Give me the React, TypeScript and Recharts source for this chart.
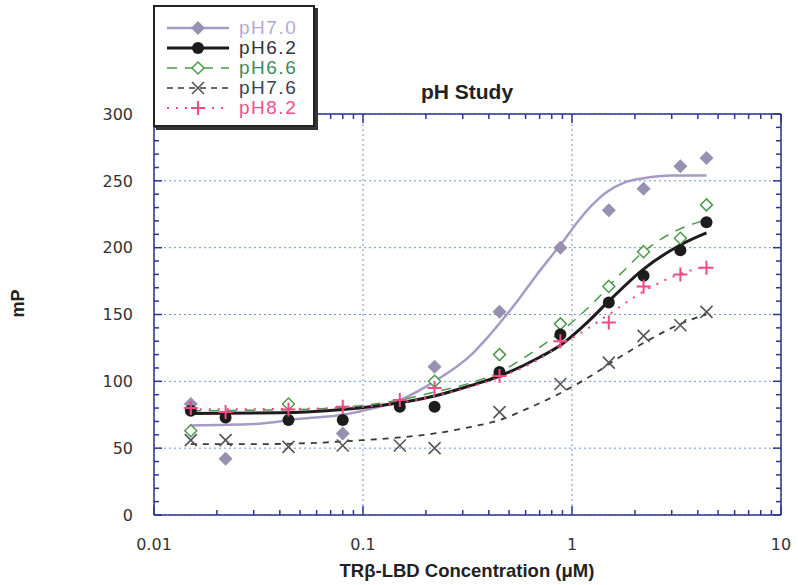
import React from "react";
import { ComposedChart, Line, Scatter, XAxis, YAxis, CartesianGrid, ReferenceLine } from "recharts";

// concentrations (uM) of the measured points
const conc = [0.015, 0.022, 0.044, 0.08, 0.15, 0.22, 0.45, 0.88, 1.5, 2.2, 3.3, 4.4];

// measured mP per pH (null = hidden behind other markers)
const ph70 = [83, 42, null, 61, null, 111, 152, 200, 228, 244, 261, 267];
const ph62 = [78, 73, 71, 71, 81, 81, 107, 135, 159, 179, 198, 219];
const ph66 = [63, null, 83, null, null, 100, 120, 143, 171, 197, 207, 232];
const ph76 = [56, 56, 51, 52, 52, 50, 77, 98, 114, 134, 142, 152];
const ph82 = [80, 77, 79, 81, 86, 95, 104, 130, 144, 171, 180, 185];

// fitted curves
const fit70X = [0.015, 0.03, 0.05, 0.08, 0.1, 0.15, 0.22, 0.33, 0.39, 0.47, 0.56, 0.68, 0.8, 0.91, 1.06, 1.25, 1.45, 1.8, 2.2, 3.0, 4.4];
const fit70Y = [67, 68, 72, 75, 78, 86, 100, 120, 132, 147, 162, 180, 194, 205, 219, 232, 241, 249, 252, 254, 254];
const fit62X = [0.015, 0.04, 0.08, 0.15, 0.22, 0.33, 0.45, 0.7, 0.88, 1.2, 1.5, 2.2, 3.3, 4.4];
const fit62Y = [76, 76.5, 79, 84, 89, 97, 104, 118, 127, 145, 160, 184, 202, 211];
const fit66X = [0.015, 0.05, 0.1, 0.15, 0.22, 0.33, 0.45, 0.65, 0.88, 1.25, 1.7, 2.2, 3.0, 4.4];
const fit66Y = [78, 79, 82, 86, 92, 99, 107, 122, 137, 158, 180, 197, 211, 221];
const fit76X = [0.015, 0.03, 0.06, 0.1, 0.15, 0.22, 0.33, 0.45, 0.6, 0.85, 1.2, 1.65, 2.4, 3.3, 4.4];
const fit76Y = [53, 53, 54, 56, 58, 61, 66, 71, 79, 90, 103, 117, 132, 143, 150];
const fit82X = [0.015, 0.05, 0.1, 0.15, 0.22, 0.33, 0.45, 0.65, 0.88, 1.15, 1.5, 1.9, 2.9, 3.9, 4.4];
const fit82Y = [79, 79.5, 81, 84, 89, 96, 103, 114, 127, 138, 150, 161, 177, 184, 186];

// axis ticks
const xMajor = [0.01, 0.1, 1, 10];
const xMinor = [0.02, 0.03, 0.04, 0.05, 0.06, 0.07, 0.08, 0.09, 0.2, 0.3, 0.4, 0.5, 0.6, 0.7, 0.8, 0.9, 2, 3, 4, 5, 6, 7, 8, 9];
const yMajor = [0, 50, 100, 150, 200, 250, 300];
const yMinor = [10, 20, 30, 40, 60, 70, 80, 90, 110, 120, 130, 140, 160, 170, 180, 190, 210, 220, 230, 240, 260, 270, 280, 290];

const pts = (ys: (number | null)[]) =>
    conc.map((x, i) => ({ x, y: ys[i] })).filter((d) => d.y !== null);
const curve = (xs: number[], ys: number[]) => xs.map((x, i) => ({ x, y: ys[i] }));

// layout
const W = 798;
const H = 585;
const M = { top: 114, right: 17, bottom: 35, left: 94 };
const XH = 35;
const YW = 60;
const PLOT_TOP = M.top;
const PLOT_BOTTOM = H - M.bottom - XH;
const PLOT_LEFT = M.left + YW;
const PLOT_RIGHT = W - M.right;

const C70 = "#a79bc6";
const C70dot = "#9890b0";
const C62 = "#1c1c1c";
const C66 = "#4f9a4f";
const C76 = "#3a3a3a";
const C82 = "#f04a80";
const AXIS = "#2b3590";
const FONT = "'DejaVu Sans', sans-serif";

const Diamond = ({ cx, cy }: any) => (
    <path d={`M${cx},${cy - 7}L${cx + 7},${cy}L${cx},${cy + 7}L${cx - 7},${cy}Z`} fill={C70dot} />
);
const OpenDiamond = ({ cx, cy }: any) => (
    <path d={`M${cx},${cy - 6}L${cx + 6},${cy}L${cx},${cy + 6}L${cx - 6},${cy}Z`} fill="white" stroke={C66} strokeWidth={1.5} />
);
const Dot = ({ cx, cy }: any) => <circle cx={cx} cy={cy} r={6} fill={C62} />;
const Cross = ({ cx, cy }: any) => (
    <path d={`M${cx - 6},${cy - 6}L${cx + 6},${cy + 6}M${cx + 6},${cy - 6}L${cx - 6},${cy + 6}`} stroke="#555" strokeWidth={1.6} />
);
const Plus = ({ cx, cy }: any) => (
    <path d={`M${cx - 7},${cy}L${cx + 7},${cy}M${cx},${cy - 7}L${cx},${cy + 7}`} stroke={C82} strokeWidth={2} />
);

// x ticks: inward marks on bottom and top edges, label on decades
const XTick = ({ x, y, payload }: any) => {
    const major = xMajor.includes(payload.value);
    const len = major ? 9 : 5;
    return (
        <g>
            <line x1={x} x2={x} y1={PLOT_BOTTOM} y2={PLOT_BOTTOM - len} stroke={AXIS} strokeWidth={1.5} />
            <line x1={x} x2={x} y1={PLOT_TOP} y2={PLOT_TOP + len} stroke={AXIS} strokeWidth={1.5} />
            {major && (
                <text x={x} y={y} dy="0.71em" textAnchor="middle" fill="#333" fontSize={16} fontFamily={FONT}>
                    {payload.value}
                </text>
            )}
        </g>
    );
};

// y ticks: inward marks on left and right edges, label every 50
const YTick = ({ x, y, payload }: any) => {
    const major = yMajor.includes(payload.value);
    const len = major ? 8 : 5;
    return (
        <g>
            <line x1={PLOT_LEFT} x2={PLOT_LEFT + len} y1={y} y2={y} stroke={AXIS} strokeWidth={1.5} />
            <line x1={PLOT_RIGHT} x2={PLOT_RIGHT - len} y1={y} y2={y} stroke={AXIS} strokeWidth={1.5} />
            {major && (
                <text x={x} y={y} dy="0.355em" textAnchor="end" fill="#333" fontSize={16} fontFamily={FONT}>
                    {payload.value}
                </text>
            )}
        </g>
    );
};

const legendRows = [
    { label: "pH7.0", color: "#b5a8d6", stroke: C70, dash: undefined, width: 2.5, marker: "diamond" },
    { label: "pH6.2", color: "#333", stroke: C62, dash: undefined, width: 3, marker: "dot" },
    { label: "pH6.6", color: "#3f8a5c", stroke: C66, dash: "10 8", width: 1.5, marker: "open" },
    { label: "pH7.6", color: "#3b3f55", stroke: C76, dash: "6 5", width: 1.5, marker: "cross" },
    { label: "pH8.2", color: "#f0508a", stroke: C82, dash: "2 7", width: 2, marker: "plus" },
];

function LegendBox() {
    return (
        <div
            style={{
                position: "absolute",
                left: 153,
                top: 5,
                width: 158,
                height: 107,
                border: "2px solid #222",
                boxShadow: "3px 3px 0 #333",
                background: "white",
                paddingTop: 11,
                boxSizing: "content-box",
            }}
        >
            {legendRows.map((r) => (
                <div key={r.label} style={{ display: "flex", alignItems: "center", height: 20, paddingLeft: 12 }}>
                    <svg width={64} height={16}>
                        <line x1={0} y1={8} x2={62} y2={8} stroke={r.stroke} strokeWidth={r.width} strokeDasharray={r.dash} />
                        {r.marker === "diamond" && <Diamond cx={31} cy={8} />}
                        {r.marker === "dot" && <Dot cx={31} cy={8} />}
                        {r.marker === "open" && <OpenDiamond cx={31} cy={8} />}
                        {r.marker === "cross" && <Cross cx={31} cy={8} />}
                        {r.marker === "plus" && <Plus cx={31} cy={8} />}
                    </svg>
                    <span
                        style={{
                            marginLeft: 8,
                            color: r.color,
                            fontFamily: "'Liberation Sans', sans-serif",
                            fontSize: 19,
                            letterSpacing: 1.5,
                            lineHeight: "20px",
                        }}
                    >
                        {r.label}
                    </span>
                </div>
            ))}
        </div>
    );
}

export default function App() {
    return (
        <div style={{ position: "absolute", left: 0, top: 0, width: W, height: H, background: "white" }}>
            <ComposedChart width={W} height={H} margin={M}>
                <CartesianGrid stroke="#6f93d8" strokeDasharray="2 3" horizontalValues={yMajor} verticalValues={xMajor} />
                <XAxis
                    dataKey="x"
                    type="number"
                    scale="log"
                    domain={[0.01, 10]}
                    allowDataOverflow
                    ticks={[...xMajor, ...xMinor].sort((a, b) => a - b)}
                    interval={0}
                    tick={XTick}
                    tickLine={false}
                    tickSize={0}
                    tickMargin={24}
                    height={XH}
                    axisLine={{ stroke: AXIS, strokeWidth: 1.5 }}
                />
                <YAxis
                    type="number"
                    domain={[0, 300]}
                    allowDataOverflow
                    ticks={[...yMajor, ...yMinor].sort((a, b) => a - b)}
                    interval={0}
                    tick={YTick}
                    tickLine={false}
                    tickSize={0}
                    tickMargin={21}
                    width={YW}
                    axisLine={{ stroke: AXIS, strokeWidth: 1.5 }}
                />
                <ReferenceLine y={300} stroke={AXIS} strokeWidth={1.5} />
                <ReferenceLine x={10} stroke={AXIS} strokeWidth={1.5} />

                <Scatter data={pts(ph70)} dataKey="y" shape={Diamond} isAnimationActive={false} />
                <Line data={curve(fit70X, fit70Y)} dataKey="y" type="monotone" stroke={C70} strokeWidth={2.5} dot={false} activeDot={false} isAnimationActive={false} />
                <Scatter data={pts(ph66)} dataKey="y" shape={OpenDiamond} isAnimationActive={false} />
                <Line data={curve(fit66X, fit66Y)} dataKey="y" type="monotone" stroke={C66} strokeWidth={1.5} strokeDasharray="10 8" dot={false} activeDot={false} isAnimationActive={false} />
                <Scatter data={pts(ph76)} dataKey="y" shape={Cross} isAnimationActive={false} />
                <Line data={curve(fit76X, fit76Y)} dataKey="y" type="monotone" stroke={C76} strokeWidth={1.8} strokeDasharray="6 6" dot={false} activeDot={false} isAnimationActive={false} />
                <Scatter data={pts(ph62)} dataKey="y" shape={Dot} isAnimationActive={false} />
                <Line data={curve(fit62X, fit62Y)} dataKey="y" type="monotone" stroke={C62} strokeWidth={3} dot={false} activeDot={false} isAnimationActive={false} />
                <Scatter data={pts(ph82)} dataKey="y" shape={Plus} isAnimationActive={false} />
                <Line data={curve(fit82X, fit82Y)} dataKey="y" type="monotone" stroke={C82} strokeWidth={2} strokeDasharray="2 7" dot={false} activeDot={false} isAnimationActive={false} />
            </ComposedChart>

            <LegendBox />
            <div style={{ position: "absolute", left: 367, top: 80, width: 200, textAlign: "center", fontFamily: "'Liberation Sans', sans-serif", fontWeight: "bold", fontSize: 21, color: "#222" }}>
                pH Study
            </div>
            <div style={{ position: "absolute", left: 217, top: 560, width: 500, textAlign: "center", fontFamily: "'Liberation Sans', sans-serif", fontWeight: "bold", fontSize: 18.5, color: "#222" }}>
                TRβ-LBD Concentration (μM)
            </div>
            <div style={{ position: "absolute", left: -4, top: 293, width: 44, textAlign: "center", transform: "rotate(-90deg)", fontFamily: "'Liberation Sans', sans-serif", fontWeight: "bold", fontSize: 18, color: "#222" }}>
                mP
            </div>
        </div>
    );
}
